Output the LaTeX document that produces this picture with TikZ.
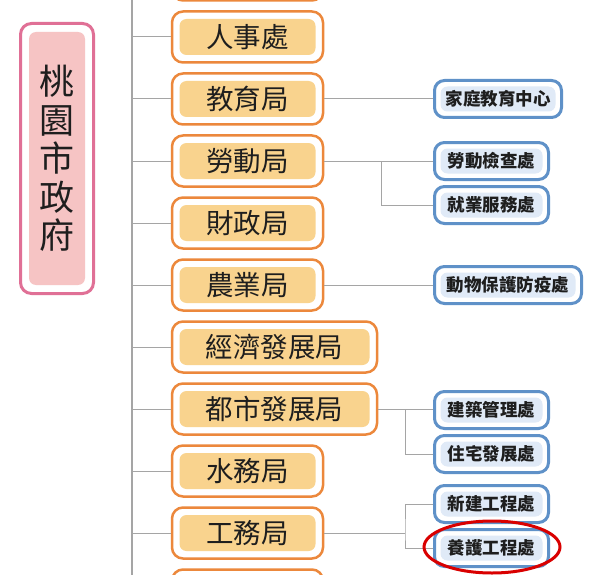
\documentclass[tikz,border=0pt]{standalone}
\usepackage{fontspec}
\newfontfamily\cjk{Noto Sans CJK TC}
\definecolor{oline}{RGB}{236,136,60}
\definecolor{ofill}{RGB}{249,211,142}
\definecolor{pline}{RGB}{224,112,150}
\definecolor{pfill}{RGB}{246,196,196}
\definecolor{bline}{RGB}{95,145,200}
\definecolor{bfill}{RGB}{224,234,247}
\definecolor{conn}{RGB}{165,165,165}
\definecolor{txt}{RGB}{30,30,30}
\tikzset{
  framed/.style args={#1/#2/#3/#4}{draw=#1, line width=#3, fill=white, rounded corners=11pt,
    path picture={\fill[#2, rounded corners=7pt]
      ([shift={(#4,-#4)}]path picture bounding box.north west) rectangle
      ([shift={(-#4,#4)}]path picture bounding box.south east);}},
  obox/.style={framed={oline/ofill/2.5pt/7.5pt}, minimum width=151pt, minimum height=51pt,
    inner sep=0pt, text=txt, font=\cjk\fontsize{27.5}{30}\selectfont},
  owide/.style={obox, minimum width=205pt},
  bbox/.style={framed={bline/bfill/3pt/6pt}, rounded corners=10pt, minimum height=37pt,
    inner sep=0pt, text=txt, font=\cjk\bfseries\fontsize{17.5}{20}\selectfont},
  pbox/.style={framed={pline/pfill/3pt/8.5pt}, minimum width=73pt, minimum height=270pt,
    inner sep=0pt, text=txt, align=center, font=\cjk\fontsize{35}{38.5}\selectfont},
  spine/.style={draw=conn, line width=2pt},
  link/.style={draw=conn, line width=1pt},
  mark ring/.style={draw=red!85!black, line width=3pt}
}
\begin{document}
\begin{tikzpicture}[x=1pt,y=-1pt]
\useasboundingbox (0,0) rectangle (602,575);
\clip (0,0) rectangle (602,575);
\fill[white] (0,0) rectangle (602,575);
% spine
\coordinate (top) at (132,0);
\coordinate (bot) at (132,575);
\draw[spine] (top) -- (bot);
% left
\node[pbox] (gov) at (57,158.5) {桃\\園\\市\\政\\府};
% orange boxes
\node[obox] (b0) at (247.5,-25) {};
\node[obox] (b1) at (247.5,37) {人事處};
\node[obox] (b2) at (247.5,99) {教育局};
\node[obox] (b3) at (247.5,161) {勞動局};
\node[obox] (b4) at (247.5,223) {財政局};
\node[obox] (b5) at (247.5,285) {農業局};
\node[owide] (b6) at (274.5,347) {經濟發展局};
\node[owide] (b7) at (274.5,409) {都市發展局};
\node[obox] (b8) at (247.5,471) {水務局};
\node[obox] (b9) at (247.5,533) {工務局};
\node[obox] (b10) at (247.5,595) {};
\foreach \n in {b1,b2,b3,b4,b5,b6,b7,b8,b9}{\draw[link] (top |- \n.west) -- (\n.west);}
% blue boxes
\node[bbox, minimum width=127pt] (c1) at (498,99) {家庭教育中心};
\node[bbox, minimum width=114pt] (c2) at (491.5,161) {勞動檢查處};
\node[bbox, minimum width=114pt] (c3) at (491.5,205) {就業服務處};
\node[bbox, minimum width=147pt] (c4) at (508,285) {動物保護防疫處};
\node[bbox, minimum width=114pt] (c5) at (491.5,410) {建築管理處};
\node[bbox, minimum width=114pt] (c6) at (491.5,454) {住宅發展處};
\node[bbox, minimum width=114pt] (c7) at (491.5,504) {新建工程處};
\node[bbox, minimum width=114pt] (c8) at (491.5,548) {養護工程處};
% sub links
\draw[link] (b2.east) -- (c1.west);
\draw[link] (b3.east) -- (c2.west);
\coordinate (j1) at (381,161);
\draw[link] (j1) |- (c3.west);
\draw[link] (b5.east) -- (c4.west);
\draw[link] (b7.east) -- (c5.west |- b7.east);
\coordinate (j2) at (405,409);
\draw[link] (j2) |- (c6.west);
\coordinate (j3) at (405,533);
\draw[link] (b9.east) -- (j3);
\draw[link] (c7.west) -| (j3) |- (c8.west);
% highlight
\draw[mark ring] (492,547) ellipse [x radius=68, y radius=26];
\end{tikzpicture}
\end{document}
